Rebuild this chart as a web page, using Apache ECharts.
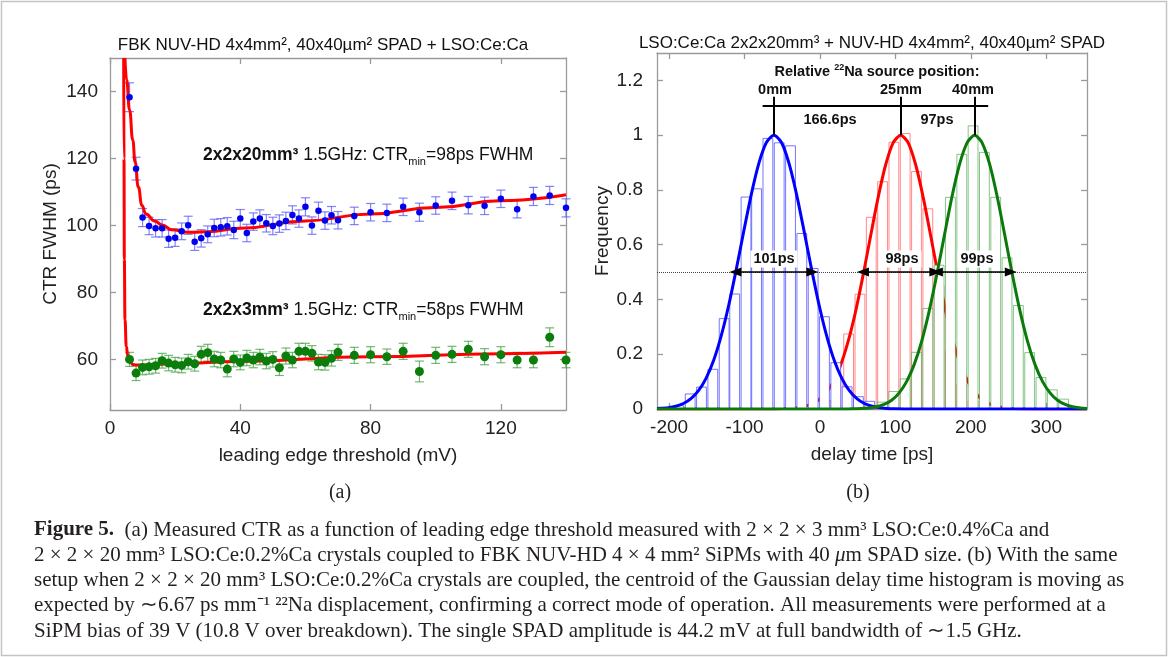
<!DOCTYPE html>
<html>
<head>
<meta charset="utf-8">
<script src="https://cdn.jsdelivr.net/npm/echarts@6/dist/echarts.min.js"></script>
<style>
html, body { margin: 0; padding: 0; background: #fff; }
#main { width: 1168px; height: 657px; }
</style>
</head>
<body>
<div id="main"></div>
<script>
// ---- panel (a): CTR vs leading edge threshold ----
var thr = [6,8,10,12,14,16,18,20,22,24,26,28,30,32,34,36,38,40,42,44,46,48,50,52,54,56,58,60,62,64,66,68,70,
           75,80,85,90,95,100,105,110,115,120,125,130,135,140];
var ctr20 = [138.3,117,102.4,99.9,99.2,99.2,96.1,96.4,98.3,100.1,95.2,96.2,97.4,99.3,99.5,99.8,98.7,102.1,97.8,101.2,
             102.1,100.7,99.9,100.6,101.4,103.2,102.1,105.6,100,104.4,101.5,103.1,101.6,
             102.9,104,103.8,105.6,104,106,107.4,106.1,105.9,108,104.9,108.7,109,105.3];
var err20 = [4.3,3.4,2.7,2.6,2.6,2.6,2.6,2.6,2.5,2.7,2.6,2.6,2.5,2.6,2.6,2.6,2.6,2.7,2.6,2.6,
             2.6,2.6,2.6,2.6,2.6,2.7,2.6,2.7,2.6,2.6,2.6,2.6,2.6,
             2.6,2.6,2.6,2.6,2.7,2.6,2.6,2.6,2.6,2.6,2.6,2.7,2.7,2.7];
var ctr3 = [60.1,56,57.7,57.9,58.2,59.7,59,58.5,58.3,59.4,58.8,61.6,62.1,60.2,59.9,57.2,60.2,59.2,60.5,59.9,
            60.8,59.6,60.1,57.6,61.1,59.9,62.5,62.5,61.9,59.3,59.2,60.4,62.2,
            61.3,61.5,60.9,62.5,56.5,61.3,61.6,63.1,60.9,61.5,59.9,59.9,66.7,59.9];
var err3 = [2.1,2.2,2.2,2.2,2.2,2.2,2.3,2.2,2.2,2.2,2.2,2.4,2.5,2.3,2.3,2.3,2.3,2.2,2.3,2.3,
            2.3,2.3,2.3,2.3,2.4,2.3,2.4,2.4,2.3,2.3,2.3,2.3,2.4,
            2.4,2.4,2.3,2.4,3.1,2.4,2.4,2.4,2.4,2.4,2.3,2.3,2.8,2.3];
// red fit curves
var fit20X = [4.6,5.1,6,7,7.7,8.7,9.8,11,13.8,16,19,24,30,40,60,80,100,120,140];
var fit20Y = [150,143.5,134.5,125.5,119,111.5,106,103.5,101.3,100.2,98.8,98,98.2,99.2,101.4,103.5,105.4,107.4,109.2];
var fit3X = [4.2,4.3,4.4,4.6,5,5.5,6,7,8,20,40,80,120,140];
var fit3Y = [150,120,90,72,64,61,59.7,58.6,58.4,58.8,59.5,60.9,61.8,62.2];
var thrTicks = [0,40,80,120];
var ctrTicks = [60,80,100,120,140];

// ---- panel (b): delay time histograms ----
var blueX = [-187,-172,-157,-142,-127,-113,-98,-84,-69,-54,-39,-24,-9,6,21,36,51,66];
var blueH = [0.012,0.055,0.08,0.145,0.33,0.42,0.774,0.804,0.988,0.972,0.961,0.641,0.513,0.337,0.169,0.081,0.045,0.028];
var redX = [8,23,38,53,68,83,98,113,128,143,158,173,188,203];
var redH = [0.03,0.12,0.274,0.419,0.70,0.83,0.974,1.006,0.867,0.731,0.45,0.21,0.09,0.03];
var greenX = [83,98,113,128,143,158,173,188,203,218,233,248,263,278,293,308,323];
var greenH = [0.025,0.064,0.11,0.207,0.367,0.525,0.773,0.93,1.034,0.937,0.773,0.552,0.378,0.206,0.115,0.07,0.036];
// gaussian fit curves, every 10 ps
var gBlueX = [-216,-201,-191,-181,-171,-161,-151,-141,-131,-121,-111,-101,-91,-81,-71,-61,
              -51,-41,-31,-21,-11,-1,9,19,29,39,49,59,69,79,89,99,120,354];
var gBlueY = [0.002,0.005,0.010,0.020,0.038,0.067,0.112,0.177,0.266,0.378,0.509,0.649,0.784,0.897,0.973,1,
              0.973,0.897,0.784,0.649,0.509,0.378,0.266,0.177,0.112,0.067,0.038,0.020,0.010,0.005,0.002,0.001,0,0];
var gRedX = [-216,-63,-53,-43,-33,-23,-13,-3,7,17,27,37,47,57,67,77,87,97,107,
             117,127,137,147,157,167,177,187,197,207,217,227,237,247,257,267,300,354];
var gRedY = [0,0,0.001,0.002,0.003,0.008,0.016,0.030,0.056,0.096,0.157,0.243,0.353,0.486,0.630,0.771,0.891,0.972,1,
             0.972,0.891,0.771,0.630,0.486,0.353,0.243,0.157,0.096,0.056,0.030,0.016,0.008,0.003,0.002,0.001,0,0];
var gGreenX = [-216,35,45,55,65,75,85,95,105,115,125,135,145,155,165,175,185,195,205,
               215,225,235,245,255,265,275,285,295,305,315,325,335,345,354];
var gGreenY = [0,0,0.001,0.002,0.004,0.008,0.017,0.032,0.059,0.101,0.163,0.249,0.360,0.492,0.635,0.775,0.893,0.972,1,
               0.972,0.893,0.775,0.635,0.492,0.360,0.249,0.163,0.101,0.059,0.032,0.017,0.008,0.004,0.002];
var peaks = [-61,107,205];
var halfL = [-112,57,155];
var halfR = [-10,153,253];
var delayTicks = [-200,-100,0,100,200,300];
var freqTicks = [0,0.2,0.4,0.6,0.8,1,1.2];

function zip(a, b, c) {
    var out = [];
    for (var i = 0; i < a.length; i++) out.push(c ? [a[i], b[i], c[i]] : [a[i], b[i]]);
    return out;
}

var FONT = 'Liberation Sans, Arial, sans-serif';
var SERIF = 'Liberation Serif, Times New Roman, serif';
var frameLine = { color: '#9a9a9a', width: 1.3 };

function axis(o) {
    var a = {
        type: 'value', gridIndex: o.grid, position: o.pos, min: o.min, max: o.max,
        axisLine: { show: true, onZero: false, lineStyle: frameLine },
        axisTick: { show: true, inside: true, length: 6, customValues: o.ticks, lineStyle: frameLine },
        axisLabel: { show: !!o.label, customValues: o.ticks, fontSize: 19, color: '#222', fontFamily: FONT, margin: o.margin || 9 },
        splitLine: { show: false }
    };
    if (o.name) {
        a.name = o.name;
        a.nameLocation = 'middle';
        a.nameGap = o.gap;
        a.nameTextStyle = { fontSize: 19, color: '#222', fontFamily: FONT };
    }
    return a;
}

function errRender(params, api) {
    var x = api.value(0), y = api.value(1), e = api.value(2);
    var t = api.coord([x, y + e]), b = api.coord([x, y - e]);
    var cw = 4.5;
    var st = { stroke: api.visual('color'), lineWidth: 1.2 };
    return { type: 'group', children: [
        { type: 'line', shape: { x1: t[0], y1: t[1], x2: b[0], y2: b[1] }, style: st },
        { type: 'line', shape: { x1: t[0] - cw, y1: t[1], x2: t[0] + cw, y2: t[1] }, style: st },
        { type: 'line', shape: { x1: b[0] - cw, y1: b[1], x2: b[0] + cw, y2: b[1] }, style: st }
    ]};
}

function histRender(params, api) {
    var x = api.value(0), h = api.value(1);
    var p0 = api.coord([x - 6.5, h]), p1 = api.coord([x + 6.5, 0]);
    return { type: 'rect',
        shape: { x: p0[0], y: p0[1], width: p1[0] - p0[0], height: p1[1] - p0[1] },
        style: { fill: '#fff', stroke: api.visual('color'), lineWidth: 1 } };
}

function txt(x, y, text, size, extra) {
    var s = { text: text, fontSize: size, fontFamily: FONT, fill: '#111',
              textAlign: 'center', textVerticalAlign: 'middle', align: 'center', verticalAlign: 'middle' };
    for (var k in extra) s[k] = extra[k];
    return { type: 'text', x: x, y: y, style: s, z: 100 };
}

var supSub = {
    b: { fontSize: 17.5, fontWeight: 'bold', fontFamily: FONT, lineHeight: 24, fill: '#111' },
    n: { fontSize: 17.5, fontFamily: FONT, lineHeight: 24, fill: '#111' },
    s: { fontSize: 11, fontFamily: FONT, lineHeight: 12, verticalAlign: 'bottom', fill: '#111' }
};

var CAP = 21;
var capRich = {
    b: { fontWeight: 'bold', fontSize: CAP, fontFamily: SERIF, fill: '#231f20' },
    i: { fontStyle: 'italic', fontSize: CAP, fontFamily: SERIF, fill: '#231f20' }
};
var capLines = [
    '{b|Figure 5.}  (a) Measured CTR as a function of leading edge threshold measured with 2 × 2 × 3 mm³ LSO:Ce:0.4%Ca and',
    '2 × 2 × 20 mm³ LSO:Ce:0.2%Ca crystals coupled to FBK NUV-HD 4 × 4 mm² SiPMs with 40 {i|μ}m SPAD size. (b) With the same',
    'setup when 2 × 2 × 20 mm³ LSO:Ce:0.2%Ca crystals are coupled, the centroid of the Gaussian delay time histogram is moving as',
    'expected by ∼6.67 ps mm⁻¹ ²²Na displacement, confirming a correct mode of operation. All measurements were performed at a',
    'SiPM bias of 39 V (10.8 V over breakdown). The single SPAD amplitude is 44.2 mV at full bandwidth of ∼1.5 GHz.'
];

var graphics = [
    { type: 'rect', shape: { x: 1.5, y: 1.5, width: 1165, height: 654 }, style: { fill: 'none', stroke: '#c4c4c4', lineWidth: 1.5 }, z: 0 },
    txt(323, 45, 'FBK NUV-HD 4x4mm², 40x40µm² SPAD + LSO:Ce:Ca', 17),
    txt(872, 43, 'LSO:Ce:Ca 2x2x20mm³ + NUV-HD 4x4mm², 40x40µm² SPAD', 17),
    txt(203, 155, '{b|2x2x20mm³} {n|1.5GHz: CTR}{s|min}{n|=98ps FWHM}', 17.5, { rich: supSub, textAlign: 'left', align: 'left' }),
    txt(203, 310, '{b|2x2x3mm³} {n|1.5GHz: CTR}{s|min}{n|=58ps FWHM}', 17.5, { rich: supSub, textAlign: 'left', align: 'left' }),
    txt(877, 72, '{t|Relative }{u|22}{t|Na source position:}', 14, { rich: {
        t: { fontSize: 14.5, fontWeight: 'bold', fontFamily: FONT, lineHeight: 18, fill: '#111' },
        u: { fontSize: 9, fontWeight: 'bold', fontFamily: FONT, lineHeight: 10, verticalAlign: 'top', fill: '#111' } } }),
    txt(775, 90, '0mm', 14.5, { fontWeight: 'bold' }),
    txt(901, 90, '25mm', 14.5, { fontWeight: 'bold' }),
    txt(973, 90, '40mm', 14.5, { fontWeight: 'bold' }),
    txt(830, 120, '166.6ps', 14.5, { fontWeight: 'bold' }),
    txt(937, 120, '97ps', 14.5, { fontWeight: 'bold' }),
    txt(774, 259, '101ps', 14.5, { fontWeight: 'bold', backgroundColor: '#fff', padding: [1, 3] }),
    txt(902, 259, '98ps', 14.5, { fontWeight: 'bold', backgroundColor: '#fff', padding: [1, 3] }),
    txt(977, 259, '99ps', 14.5, { fontWeight: 'bold', backgroundColor: '#fff', padding: [1, 3] }),
    txt(340, 493, '(a)', 20, { fontFamily: SERIF, fill: '#231f20' }),
    txt(858, 493, '(b)', 20, { fontFamily: SERIF, fill: '#231f20' })
];
var capY = [530, 555, 580, 605, 631];
for (var i = 0; i < capLines.length; i++) {
    graphics.push(txt(34, capY[i], capLines[i], CAP, { fontFamily: SERIF, fill: '#231f20', rich: capRich, textAlign: 'left', align: 'left' }));
}

var myChart = echarts.init(document.getElementById('main'), null, { renderer: 'canvas' });
var option = {
    animation: false,
    backgroundColor: '#fff',
    textStyle: { fontFamily: FONT },
    grid: [
        { left: 110, top: 58, width: 456, height: 352 },
        { left: 657, top: 53, width: 430, height: 356 }
    ],
    xAxis: [
        axis({ grid: 0, pos: 'bottom', min: 0, max: 140, ticks: thrTicks, label: true, name: 'leading edge threshold (mV)', gap: 36 }),
        axis({ grid: 0, pos: 'top', min: 0, max: 140, ticks: thrTicks }),
        axis({ grid: 1, pos: 'bottom', min: -216, max: 354, ticks: delayTicks, label: true, name: 'delay time [ps]', gap: 36 }),
        axis({ grid: 1, pos: 'top', min: -216, max: 354, ticks: delayTicks })
    ],
    yAxis: [
        axis({ grid: 0, pos: 'left', min: 45, max: 150, ticks: ctrTicks, label: true, margin: 12, name: 'CTR FWHM (ps)', gap: 50 }),
        axis({ grid: 0, pos: 'right', min: 45, max: 150, ticks: ctrTicks }),
        axis({ grid: 1, pos: 'left', min: 0, max: 1.3, ticks: freqTicks, label: true, margin: 14, name: 'Frequency', gap: 39 }),
        axis({ grid: 1, pos: 'right', min: 0, max: 1.3, ticks: freqTicks })
    ],
    series: [
        // panel (a)
        { type: 'custom', xAxisIndex: 0, yAxisIndex: 0, renderItem: errRender, data: zip(thr, ctr20, err20),
          itemStyle: { color: 'rgba(90,90,245,0.75)' }, z: 2 },
        { type: 'custom', xAxisIndex: 0, yAxisIndex: 0, renderItem: errRender, data: zip(thr, ctr3, err3),
          itemStyle: { color: 'rgba(70,160,70,0.75)' }, z: 2 },
        { type: 'line', xAxisIndex: 0, yAxisIndex: 0, data: zip(fit20X, fit20Y), smooth: true, smoothMonotone: 'x',
          showSymbol: false, clip: true, lineStyle: { color: '#ff0000', width: 3 }, z: 3 },
        { type: 'line', xAxisIndex: 0, yAxisIndex: 0, data: zip(fit3X, fit3Y), smooth: true, smoothMonotone: 'x',
          showSymbol: false, clip: true, lineStyle: { color: '#ff0000', width: 3 }, z: 3 },
        { type: 'scatter', xAxisIndex: 0, yAxisIndex: 0, data: zip(thr, ctr20), symbolSize: 6.5,
          itemStyle: { color: '#0000ee', opacity: 1 }, z: 4 },
        { type: 'scatter', xAxisIndex: 0, yAxisIndex: 0, data: zip(thr, ctr3), symbolSize: 9,
          itemStyle: { color: '#0b7d0b', opacity: 1 }, z: 4 },
        // panel (b)
        { type: 'custom', xAxisIndex: 2, yAxisIndex: 2, renderItem: histRender, data: zip(redX, redH),
          itemStyle: { color: 'rgba(255,60,60,0.6)' }, z: 1 },
        { type: 'line', xAxisIndex: 2, yAxisIndex: 2, data: zip(gRedX, gRedY), smooth: 0.25,
          showSymbol: false, clip: true, lineStyle: { color: '#ff0000', width: 3 }, z: 2,
          markLine: { silent: true, symbol: 'none', label: { show: false },
              lineStyle: { color: '#444', type: 'dotted', width: 1 }, data: [{ yAxis: 0.5 }] } },
        { type: 'custom', xAxisIndex: 2, yAxisIndex: 2, renderItem: histRender, data: zip(blueX, blueH),
          itemStyle: { color: 'rgba(60,60,255,0.7)' }, z: 3 },
        { type: 'custom', xAxisIndex: 2, yAxisIndex: 2, renderItem: histRender, data: zip(greenX, greenH),
          itemStyle: { color: 'rgba(40,150,40,0.55)' }, z: 3 },
        { type: 'line', xAxisIndex: 2, yAxisIndex: 2, data: zip(gBlueX, gBlueY), smooth: 0.25,
          showSymbol: false, clip: true, lineStyle: { color: '#0000ff', width: 3 }, z: 4,
          markLine: { silent: true, symbol: 'none', label: { show: false },
              lineStyle: { color: '#000', width: 2, type: 'solid' },
              data: [
                  [{ coord: [-76, 1.109] }, { coord: [223, 1.109] }],
                  [{ coord: [peaks[0], 1] }, { coord: [peaks[0], 1.14] }],
                  [{ coord: [peaks[1], 1] }, { coord: [peaks[1], 1.14] }],
                  [{ coord: [peaks[2], 1] }, { coord: [peaks[2], 1.14] }]
              ] } },
        { type: 'line', xAxisIndex: 2, yAxisIndex: 2, data: zip(gGreenX, gGreenY), smooth: 0.25,
          showSymbol: false, clip: true, lineStyle: { color: '#0a7a0a', width: 3 }, z: 4,
          markLine: { silent: true, symbol: ['triangle', 'triangle'], symbolSize: [9, 12], label: { show: false },
              lineStyle: { color: '#000', width: 1.5, type: 'solid' },
              data: [
                  [{ coord: [halfL[0], 0.5] }, { coord: [halfR[0], 0.5] }],
                  [{ coord: [halfL[1], 0.5] }, { coord: [halfR[1], 0.5] }],
                  [{ coord: [halfL[2], 0.5] }, { coord: [halfR[2], 0.5] }]
              ] } }
    ],
    graphic: graphics
};
myChart.setOption(option);
</script>
</body>
</html>
